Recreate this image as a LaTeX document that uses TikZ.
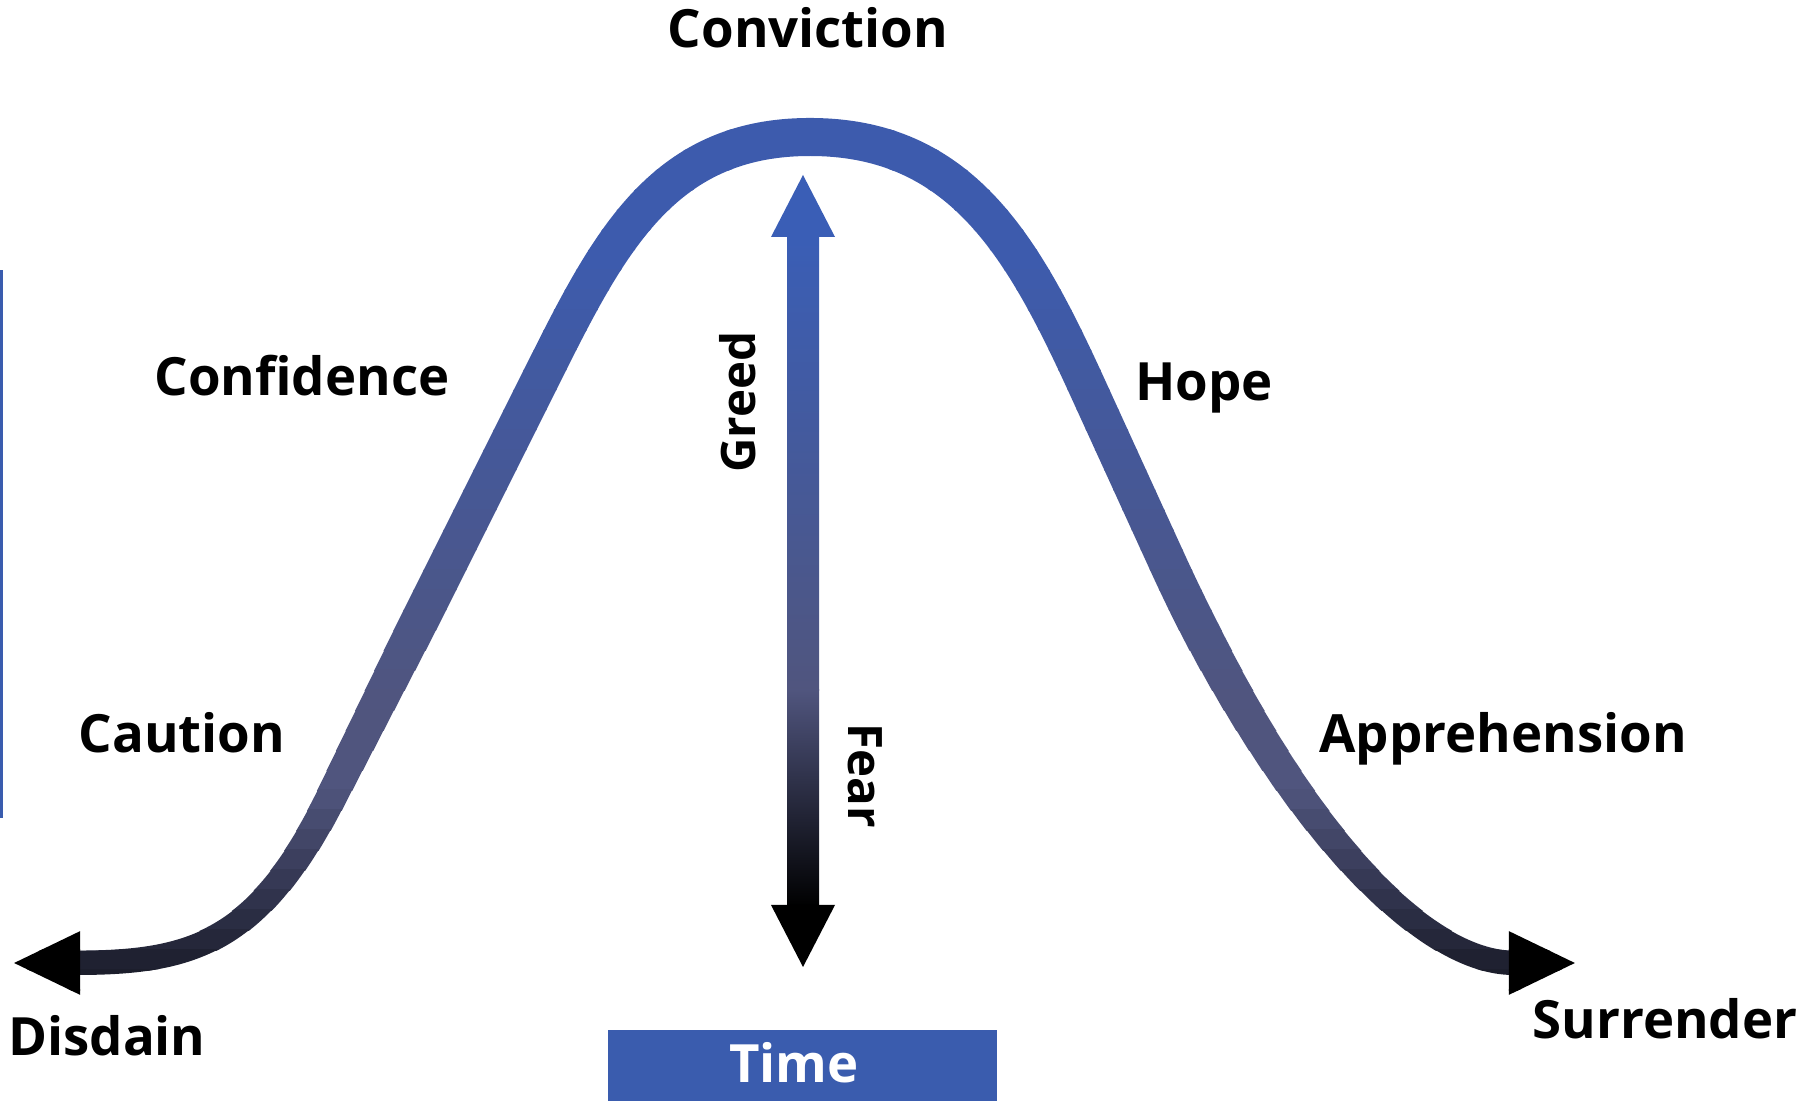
\documentclass[tikz,border=0pt]{standalone}
\usepackage{fontspec}
\setmainfont{Open Sans}
\usepackage{xcolor}
\usetikzlibrary{arrows.meta, calc}

\definecolor{peakblue}{HTML}{3D5BAD}
\definecolor{arrowblue}{HTML}{3A5EB6}
\definecolor{slopegrey}{HTML}{50557E}
\definecolor{timeblue}{HTML}{3A5CAE}

% the bell shaped path, through its named points
\newcommand\bellcurve{(disdaintip) .. controls +(180,0) and +(-72,143) .. (lowleft)
  -- (highleft) .. controls +(67,-134) and +(-150,0) .. (peak)
  .. controls +(150,0) and +(-63,-137) .. (highright)
  -- (fallpt) .. controls +(125,270) and +(-150,0) .. (surrendertip)}

\begin{document}
\begin{tikzpicture}[x=0.01cm, y=-0.01cm,
    phase/.style={font=\fontsize{15pt}{18pt}\selectfont\bfseries, anchor=base, inner sep=0pt},
    axislabel/.style={font=\fontsize{13.5pt}{16pt}\selectfont\bfseries, inner sep=0pt},
    bandtips/.style={{Triangle[length=0.68cm, width=0.58cm, color=black]}-{Triangle[length=0.68cm, width=0.58cm, color=black]}}]
  \useasboundingbox (0,0) rectangle (1802,1101);

  \coordinate (disdaintip) at (12,963);
  \coordinate (lowleft) at (330,800);
  \coordinate (highleft) at (540,380);
  \coordinate (peak) at (810,137);
  \coordinate (highright) at (1085,382);
  \coordinate (fallpt) at (1170,568);
  \coordinate (surrendertip) at (1577,963);

  % blue and thick on top, dark and thinner at both ends
  \foreach \k in {0,...,44} {
    \pgfmathsetmacro\ytop{110+20*\k}
    \pgfmathsetmacro\togrey{max(0,min(100,(\ytop-250)/4.5))}
    \pgfmathsetmacro\todark{max(0,min(65,(\ytop-780)/2.77))}
    \pgfmathsetmacro\bandw{0.28453*max(24,min(38,38-(\ytop-620)*14/330))}
    \colorlet{bandmix}{slopegrey!\togrey!peakblue}
    \colorlet{bandcol}{black!\todark!bandmix}
    \begin{scope}
      \clip (-20,\ytop) rectangle (1822,\ytop+21);
      \draw[line width=\bandw pt, bandcol, bandtips] \bellcurve;
    \end{scope}
  }

  % greed / fear arrow
  \coordinate (greedtip) at (803,175);
  \coordinate (feartip) at (803,967);
  \coordinate (midshaft) at (803,690);
  \shade[top color=arrowblue, bottom color=slopegrey]
    ($(greedtip)+(-16,60)$) rectangle ($(midshaft)+(16,1)$);
  \shade[top color=slopegrey, bottom color=black]
    ($(midshaft)+(-16,0)$) rectangle ($(feartip)+(16,-60)$);
  \fill[arrowblue] (greedtip) -- ++(-32,62) -- ++(64,0) -- cycle;
  \fill[black] (feartip) -- ++(-32,-62) -- ++(64,0) -- cycle;

  \fill[timeblue] (0,270) rectangle (3,818);

  \node[phase] (conviction) at (808,48) {Conviction};
  \node[phase] (confidence) at (302,396) {Confidence};
  \node[phase] (hope) at (1204,401) {Hope};
  \node[phase] (caution) at (182,753) {Caution};
  \node[phase] (apprehension) at (1503,753) {Apprehension};
  \node[phase] (disdain) at (107,1056) {Disdain};
  \node[phase] (surrender) at (1665,1039) {Surrender};
  \node[axislabel, rotate=90] (greed) at (738,402) {Greed};
  \node[axislabel, rotate=-90] (fear) at (865,776) {Fear};

  \fill[timeblue] (608,1030) rectangle (997,1110);
  \node[phase, white] (time) at (794,1083) {Time};
\end{tikzpicture}
\end{document}
